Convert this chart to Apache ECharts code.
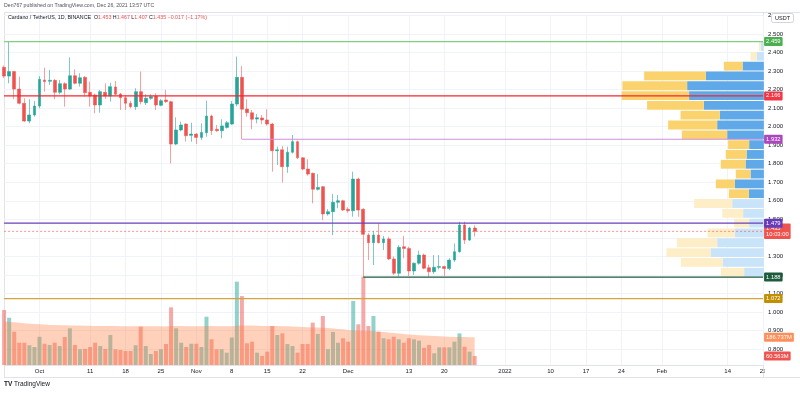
<!DOCTYPE html>
<html><head><meta charset="utf-8">
<script src="https://cdn.jsdelivr.net/npm/echarts@6/dist/echarts.min.js"></script>
<style>html,body{margin:0;padding:0;background:#fff}#c{width:800px;height:393px}</style>
</head><body><div id="c"></div>
<script>
// ---------------- DATA ----------------
const firstDate = '2021-09-24';
const lastDate = '2022-02-21';
// daily candles from 2021-09-24 to 2021-12-26: [open, close, low, high]
const candles = [
 [2.320,2.273,2.262,2.330],[2.273,2.297,2.234,2.459],[2.297,2.203,2.148,2.300],[2.203,2.126,2.120,2.270],
 [2.126,2.030,2.025,2.153],[2.030,2.063,2.018,2.148],[2.063,2.111,2.054,2.138],
 [2.111,2.256,2.099,2.273],[2.252,2.243,2.189,2.318],[2.245,2.250,2.225,2.306],[2.250,2.185,2.148,2.256],
 [2.185,2.232,2.175,2.252],[2.232,2.203,2.108,2.240],[2.203,2.275,2.198,2.374],[2.275,2.234,2.228,2.309],
 [2.234,2.264,2.216,2.288],[2.266,2.183,2.162,2.273],[2.185,2.165,2.108,2.243],[2.171,2.117,2.072,2.178],
 [2.117,2.189,2.075,2.198],[2.185,2.165,2.150,2.234],[2.165,2.216,2.135,2.237],[2.214,2.175,2.168,2.246],
 [2.176,2.156,2.090,2.182],[2.156,2.126,2.090,2.170],[2.126,2.108,2.099,2.140],[2.108,2.189,2.090,2.207],
 [2.189,2.135,2.120,2.297],[2.129,2.153,2.117,2.175],[2.153,2.162,2.145,2.175],[2.165,2.117,2.090,2.180],
 [2.115,2.140,2.110,2.150],[2.144,2.135,2.128,2.198],[2.135,1.906,1.802,2.140],[1.906,1.982,1.900,2.050],
 [1.982,2.009,1.975,2.027],[2.014,1.951,1.919,2.018],[1.953,1.960,1.919,2.021],
 [1.960,1.942,1.906,1.965],[1.942,1.969,1.928,2.018],[1.967,2.057,1.946,2.140],[2.057,1.978,1.955,2.065],
 [1.986,1.978,1.972,2.009],[1.978,2.004,1.937,2.040],[1.996,2.021,1.990,2.030],[2.014,2.122,2.010,2.138],
 [2.122,2.266,2.110,2.378],[2.266,2.094,1.932,2.327],[2.095,2.075,2.054,2.148],[2.075,2.040,1.986,2.090],
 [2.041,2.048,2.018,2.068],[2.047,2.036,2.014,2.062],[2.036,2.014,2.005,2.094],[2.014,1.870,1.757,2.020],
 [1.870,1.875,1.793,1.892],[1.875,1.784,1.698,1.895],[1.784,1.862,1.751,1.892],[1.862,1.919,1.855,1.955],
 [1.919,1.832,1.825,1.925],[1.832,1.771,1.765,1.835],[1.771,1.744,1.735,1.824],[1.748,1.662,1.586,1.752],
 [1.662,1.672,1.655,1.745],[1.676,1.529,1.496,1.680],[1.529,1.541,1.520,1.555],[1.541,1.592,1.415,1.637],
 [1.592,1.600,1.560,1.631],[1.600,1.550,1.545,1.605],
 [1.554,1.546,1.535,1.565],[1.546,1.717,1.514,1.757],[1.717,1.550,1.514,1.725],[1.554,1.419,1.188,1.560],
 [1.415,1.374,1.280,1.425],[1.374,1.415,1.253,1.437],[1.415,1.374,1.370,1.478],[1.374,1.394,1.334,1.410],
 [1.394,1.286,1.280,1.405],[1.286,1.209,1.199,1.300],[1.209,1.349,1.190,1.360],[1.352,1.343,1.290,1.411],
 [1.343,1.221,1.194,1.352],[1.221,1.263,1.200,1.267],[1.263,1.307,1.255,1.331],[1.307,1.236,1.230,1.315],
 [1.239,1.217,1.190,1.255],[1.217,1.241,1.205,1.307],[1.241,1.245,1.230,1.307],[1.245,1.234,1.194,1.250],
 [1.234,1.280,1.225,1.290],[1.280,1.325,1.270,1.370],[1.325,1.469,1.320,1.487],[1.469,1.388,1.367,1.487],
 [1.388,1.453,1.383,1.460],[1.453,1.435,1.407,1.467]
];
// daily volume (millions of ADA)
const volumes = [
 370,318,224,150,150,133,121,
 190,143,135,150,128,188,247,135,106,108,
 121,150,128,108,202,106,101,94,94,133,
 258,128,74,94,106,141,388,247,150,121,143,
 143,121,325,173,106,106,83,185,561,464,
 146,157,83,61,90,262,202,213,141,128,
 83,141,141,285,209,330,106,222,150,180,
 157,431,274,594,262,330,224,180,173,190,
 173,150,180,173,164,116,135,79,119,119,
 119,157,213,123,90,60.563
];
// volume moving average (millions)
const volumeMA = [
 292,290,287,284,281,278,276,
 274,272,270,269,268,267,266,265,265,264,
 264,263,263,262,262,262,261,261,261,260,
 261,261,260,260,260,259,262,262,262,261,261,
 261,261,262,262,261,261,261,261,264,266,
 265,265,264,263,262,262,262,261,260,259,
 257,255,254,253,252,251,249,246,243,240,
 236,233,231,230,229,227,224,222,219,216,
 212,209,206,203,201,199,197,195,193,191,
 190,189,189,188,187,186.737
];
// visible range volume profile, 24 rows from the top (highest price) down
const profileUp   = [32,79,230,626,828,807,648,475,504,396,159,187,198,144,313,162,342,224,159,313,504,576,446,213];
const profileDown = [22,65,202,666,699,727,612,424,529,489,227,224,267,159,205,216,410,224,162,295,435,475,450,252];
const profileValueArea = [0,0,1,1,1,1,1,1,1,1,1,1,1,1,1,1,0,0,0,0,0,0,0,0];
// horizontal levels drawn on the chart
const levelValues = [2.459, 2.166, 1.932, 1.479, 1.188, 1.072];
const levelStarts = [firstDate, firstDate, '2021-11-10', firstDate, '2021-12-04', firstDate];
// time axis labels
const tickDates  = ['2021-10-01','2021-10-11','2021-10-18','2021-10-25','2021-11-01','2021-11-08','2021-11-15','2021-11-22','2021-12-01','2021-12-13','2021-12-20','2022-01-01','2022-01-10','2022-01-17','2022-01-24','2022-02-01','2022-02-14','2022-02-21'];
const tickLabels = ['Oct','11','18','25','Nov','8','15','22','Dec','13','20','2022','10','17','24','Feb','14','21'];
const priceTicks = {min: 0.7, max: 2.6, interval: 0.1};
const countdown = '10:03:00';

// ---------------- BUILD ----------------
function fmt(d){const m=d.getUTCMonth()+1, dd=d.getUTCDate();return d.getUTCFullYear()+'-'+(m<10?'0':'')+m+'-'+(dd<10?'0':'')+dd;}
const dates = [];
for (let t = Date.parse(firstDate+'T00:00:00Z'); t <= Date.parse(lastDate+'T00:00:00Z'); t += 86400000) dates.push(fmt(new Date(t)));
const lastCandleDate = dates[candles.length - 1];

const FONT = 'Liberation Sans, Arial, sans-serif';
const UP = '#26a69a', DOWN = '#ef5350';
const levelLine = ['#7fcf84','#f7252e','#cf8fdc','#6a3fba','#1e5a3c','#d2a43c'];
const levelTag  = ['#4caf50','#f23645','#ab47bc','#673ab7','#1e5a3c','#c09000'];

const GL = 4.08, GR = 800 - 763.08;           // plot left / right offsets
const PT = 15.47, PH = 352.07;                  // price grid top / height
const VB = 28;                                   // volume grid bottom offset
const VOL_PX = 6.73;                             // millions per pixel
const volMax = (393 - VB - PT) * VOL_PX;

const profHi = Math.max(...candles.map(c => c[3]));
const profLo = Math.min(...candles.map(c => c[2]));
const profStep = (profHi - profLo) / profileUp.length;
const maxTotal = Math.max(...profileUp.map((u,i) => u + profileDown[i]));

const tagLabel = (bg, text) => ({
  show: true, distance: 1, formatter: text,
  color: '#fff', backgroundColor: bg, padding: [1.5, 2, 1, 2], borderRadius: 1,
  fontSize: 5.8, fontFamily: FONT, lineHeight: 6.5
});
const hLine = (name, xi, yi, from, v, style, label, z) => ({
  type: 'line', name, xAxisIndex: xi, yAxisIndex: yi, z: z || 6, silent: true, symbol: 'none',
  data: [[from, v], [lastDate, v]], lineStyle: style, endLabel: label, emphasis: {disabled: true}
});

const lastClose = candles[candles.length - 1][1];
const lastVol = volumes[volumes.length - 1];
const lastMA = volumeMA[volumeMA.length - 1];

const levelSeries = levelValues.map((v, i) =>
  hLine('level' + i, 0, 0, levelStarts[i], v, {color: levelLine[i], width: 1.2, type: 'solid'}, tagLabel(levelTag[i], v.toFixed(3))));
levelSeries.push(hLine('last', 0, 0, firstDate, lastClose, {color: 'rgba(239,83,80,0.6)', width: 1, type: [2, 2]},
  tagLabel('#ef5350', lastClose.toFixed(3) + '\n' + countdown), 5));
levelSeries.push(hLine('volTag', 1, 1, lastCandleDate, lastVol, {color: 'rgba(0,0,0,0)', width: 1}, tagLabel('#ef5350', lastVol.toFixed(3) + 'M')));
levelSeries.push(hLine('maTag', 1, 1, lastCandleDate, lastMA, {color: 'rgba(0,0,0,0)', width: 1}, tagLabel('#ff8f5a', lastMA.toFixed(3) + 'M')));

const tickIdx = new Set(tickDates.map(d => dates.indexOf(d)));
const labelOf = {}; tickDates.forEach((d, i) => labelOf[d] = tickLabels[i]);

const chart = echarts.init(document.getElementById('c'), null, {renderer: 'canvas'});
chart.setOption({
  animation: false,
  backgroundColor: '#fff',
  textStyle: {fontFamily: FONT},
  title: [
    {text: 'Den767 published on TradingView.com, Dec 26, 2021 13:57 UTC', left: 4, top: 3, padding: 0,
     textStyle: {fontSize: 5.2, color: '#50535e', fontWeight: 'normal', fontFamily: FONT}},
    {text: '{n|Cardano / TetherUS, 1D, BINANCE}  {k|O}{v|1.453} {k|H}{v|1.467} {k|L}{v|1.407} {k|C}{v|1.435} {v|−0.017 (−1.17%)}',
     left: 8, top: 15.5, padding: 0,
     textStyle: {fontSize: 5.3, fontWeight: 'normal', fontFamily: FONT,
       rich: {n: {fontSize: 5.3, color: '#131722', fontFamily: FONT}, k: {fontSize: 5.3, color: '#131722', fontFamily: FONT},
              v: {fontSize: 5.3, color: '#ef5350', fontFamily: FONT}}}}
  ],
  grid: [
    {left: GL, right: GR, top: PT, height: PH},
    {left: GL, right: GR, top: PT, bottom: VB}
  ],
  xAxis: [
    {type: 'category', gridIndex: 0, data: dates, boundaryGap: false, show: false},
    {type: 'category', gridIndex: 1, data: dates, boundaryGap: false,
     axisLine: {lineStyle: {color: '#e0e3eb', width: 1}}, axisTick: {show: false},
     axisLabel: {interval: (i) => tickIdx.has(i), formatter: (v) => labelOf[v] || '', color: '#131722',
                 fontSize: 6, fontFamily: FONT, margin: 3, hideOverlap: false},
     splitLine: {show: true, interval: (i) => tickIdx.has(i), lineStyle: {color: '#f0f3fa', width: 1}}}
  ],
  yAxis: [
    {type: 'value', gridIndex: 0, position: 'right', min: priceTicks.min, max: priceTicks.max, interval: priceTicks.interval,
     axisLine: {show: false}, axisTick: {show: false},
     axisLabel: {formatter: (v) => v.toFixed(3), color: '#131722', fontSize: 6, fontFamily: FONT, margin: 5, showMinLabel: false},
     splitLine: {show: true, showMinLine: false, lineStyle: {color: '#f0f3fa', width: 1}}},
    {type: 'value', gridIndex: 1, min: 0, max: volMax, show: false, splitLine: {show: false}}
  ],
  series: [
    {
      type: 'custom', name: 'profile', xAxisIndex: 0, yAxisIndex: 0, z: 1, silent: true,
      data: profileUp.map((u, i) => [i, profHi - (i + 0.5) * profStep, u, profileDown[i], profileValueArea[i]]),
      encode: {x: 0, y: 1},
      renderItem: function (params, api) {
        const row = api.value(0);
        const up = api.value(2), dn = api.value(3), va = api.value(4);
        const yTop = api.coord([0, profHi - row * profStep])[1];
        const yBot = api.coord([0, profHi - (row + 1) * profStep])[1];
        const cs = params.coordSys;
        const right = cs.x + cs.width + 0.8;
        const k = cs.width * 0.1873 / maxTotal;
        const h = yBot - yTop - 1;
        return {type: 'group', children: [
          {type: 'rect', shape: {x: right - up * k, y: yTop + 0.5, width: up * k, height: h},
           style: {fill: va ? '#5fa9e8' : '#c9e3f8'}},
          {type: 'rect', shape: {x: right - (up + dn) * k, y: yTop + 0.5, width: dn * k, height: h},
           style: {fill: va ? '#fad36e' : '#fdeec8'}}
        ]};
      }
    },
    {
      type: 'bar', name: 'Volume', xAxisIndex: 1, yAxisIndex: 1, z: 2, barWidth: 4, silent: true,
      data: volumes.map((v, i) => ({value: v, itemStyle: {color: candles[i][1] >= candles[i][0] ? 'rgba(38,166,154,0.5)' : 'rgba(239,83,80,0.5)'}}))
    },
    {
      type: 'line', name: 'Volume MA', xAxisIndex: 1, yAxisIndex: 1, z: 3, silent: true,
      data: volumeMA, symbol: 'none', lineStyle: {width: 0, color: 'rgba(0,0,0,0)'},
      areaStyle: {color: 'rgba(255,128,64,0.36)', opacity: 1}
    },
    {
      type: 'candlestick', name: 'ADAUSDT', xAxisIndex: 0, yAxisIndex: 0, z: 5, silent: true, barWidth: 3.3,
      data: candles,
      itemStyle: {color: UP, color0: DOWN, borderColor: 'rgba(38,166,154,0.6)', borderColor0: 'rgba(239,83,80,0.55)', borderWidth: 1}
    }
  ].concat(levelSeries),
  graphic: [
    {type: 'line', z: 0, shape: {x1: 4, y1: 12.5, x2: 800, y2: 12.5}, style: {stroke: '#e0e3eb', lineWidth: 1}},
    {type: 'line', z: 0, shape: {x1: 4.5, y1: 12, x2: 4.5, y2: 377}, style: {stroke: '#e0e3eb', lineWidth: 1}},
    {type: 'line', z: 0, shape: {x1: 4, y1: 377.5, x2: 800, y2: 377.5}, style: {stroke: '#e0e3eb', lineWidth: 1}},
    {type: 'line', z: 0, shape: {x1: 763.5, y1: 12, x2: 763.5, y2: 377}, style: {stroke: '#e0e3eb', lineWidth: 1}},
    {type: 'rect', z: 100, shape: {x: 764.5, y: 366, width: 35, height: 10}, style: {fill: '#fff'}},
    {type: 'rect', z: 100, shape: {x: 771.5, y: 13.5, width: 22, height: 9, r: 2}, style: {fill: '#fff', stroke: '#d1d4dc', lineWidth: 1}},
    {type: 'text', z: 101, x: 782.5, y: 18, style: {text: 'USDT', fontSize: 5.5, fontFamily: FONT, fill: '#131722', align: 'center', verticalAlign: 'middle'}},
    {type: 'text', z: 101, x: 4, y: 384.5, style: {text: '{l|TV} TradingView', fontFamily: FONT, fill: '#131722', verticalAlign: 'middle',
      rich: {l: {fontSize: 6.5, fontWeight: 'bold', fontFamily: FONT, fill: '#131722'}}, fontSize: 6.5}}
  ]
});
</script>
</body></html>
